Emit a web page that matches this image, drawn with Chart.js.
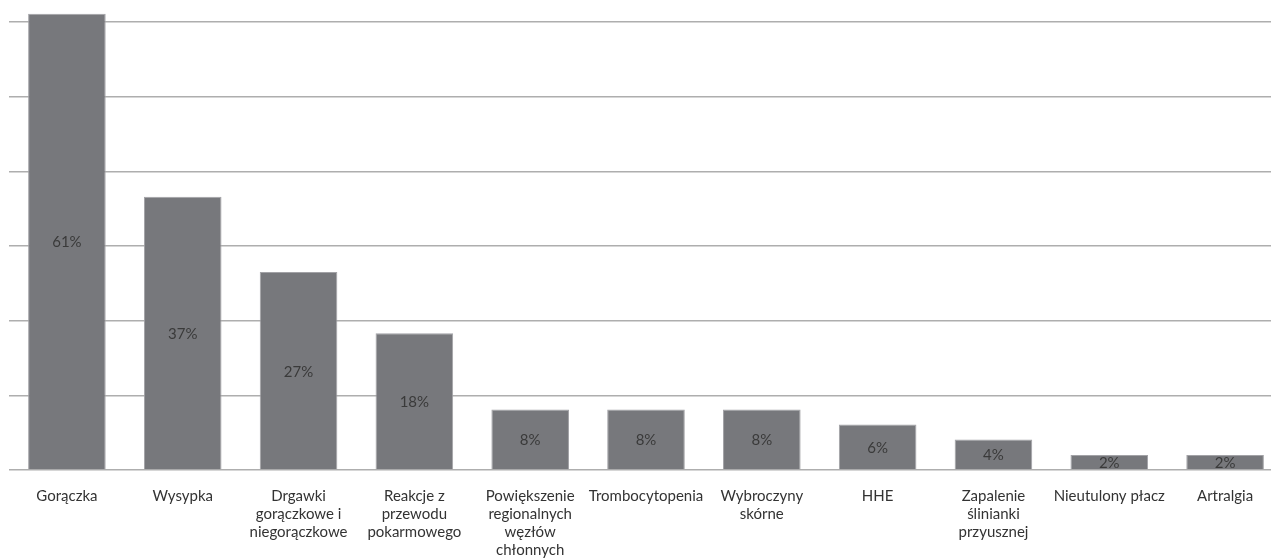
<!DOCTYPE html>
<html>
<head>
<meta charset="utf-8">
<script src="https://cdn.jsdelivr.net/npm/chart.js@4.4.1/dist/chart.umd.min.js"></script>
<style>
    html, body { margin: 0; padding: 0; background: #fff; overflow: hidden; }
    #wrap { position: relative; width: 1283px; height: 558px; }
</style>
</head>
<body>
<div id="wrap"><canvas id="chart"></canvas></div>
<script>
/* ── data ────────────────────────────────────────────────── */
const categories = [
    'Gorączka',
    'Wysypka',
    ['Drgawki', 'gorączkowe i', 'niegorączkowe'],
    ['Reakcje z', 'przewodu', 'pokarmowego'],
    ['Powiększenie', 'regionalnych', 'węzłów', 'chłonnych'],
    'Trombocytopenia',
    ['Wybroczyny', 'skórne'],
    'HHE',
    ['Zapalenie', 'ślinianki', 'przyusznej'],
    'Nieutulony płacz',
    'Artralgia',
];
const values     = [61.1, 36.6, 26.5, 18.3, 8.1, 8.1, 8.1, 6.1, 4.1, 2.0, 2.0];
const valueTexts = ['61%', '37%', '27%', '18%', '8%', '8%', '8%', '6%', '4%', '2%', '2%'];
const yTicks     = [0, 10, 20, 30, 40, 50, 60];

const FONT      = "Lato, 'Open Sans', sans-serif";
const BAR_FILL  = '#77787c';
const BAR_EDGE  = '#a2a2a6';
const GRID      = '#aeaeae';
const TEXT      = '#333333';

/* draws the percentage in the middle of each bar */
const barLabels = {
    id: 'barLabels',
    afterDatasetsDraw(chart) {
        const ctx  = chart.ctx;
        const meta = chart.getDatasetMeta(0);
        ctx.save();
        ctx.font = `15px ${FONT}`;
        ctx.fillStyle = '#3a3a3a';
        ctx.textAlign = 'center';
        ctx.textBaseline = 'middle';
        meta.data.forEach((bar, i) => {
            ctx.fillText(valueTexts[i], bar.x, (bar.y + bar.base) / 2 + 1);
        });
        ctx.restore();
    },
};

new Chart(document.getElementById('chart'), {
    type: 'bar',
    data: {
        labels: categories,
        datasets: [{
            data: values,
            backgroundColor: BAR_FILL,
            borderColor: BAR_EDGE,
            borderWidth: 1,
            barPercentage: 0.67,
            categoryPercentage: 1,
        }],
    },
    options: {
        responsive: true,
        maintainAspectRatio: false,
        animation: false,
        layout: { padding: { top: 13, right: 0, left: 0, bottom: 0 } },
        plugins: { legend: { display: false }, tooltip: { enabled: false } },
        scales: {
            x: {
                grid: { display: false },
                border: { display: false },
                ticks: {
                    color: TEXT,
                    font: { family: FONT, size: 15, lineHeight: 1.2 },
                    padding: 9,
                    maxRotation: 0,
                    autoSkip: false,
                },
                afterFit: s => { s.height = 88; },
            },
            y: {
                min: 0,
                max: 61.2,
                afterBuildTicks: s => { s.ticks = yTicks.map(v => ({ value: v })); },
                grid: { color: GRID, lineWidth: 1.5, drawTicks: false },
                border: { display: false },
                ticks: { display: false },
                afterFit: s => { s.width = 9; },
            },
        },
    },
    plugins: [barLabels],
});
</script>
</body>
</html>
